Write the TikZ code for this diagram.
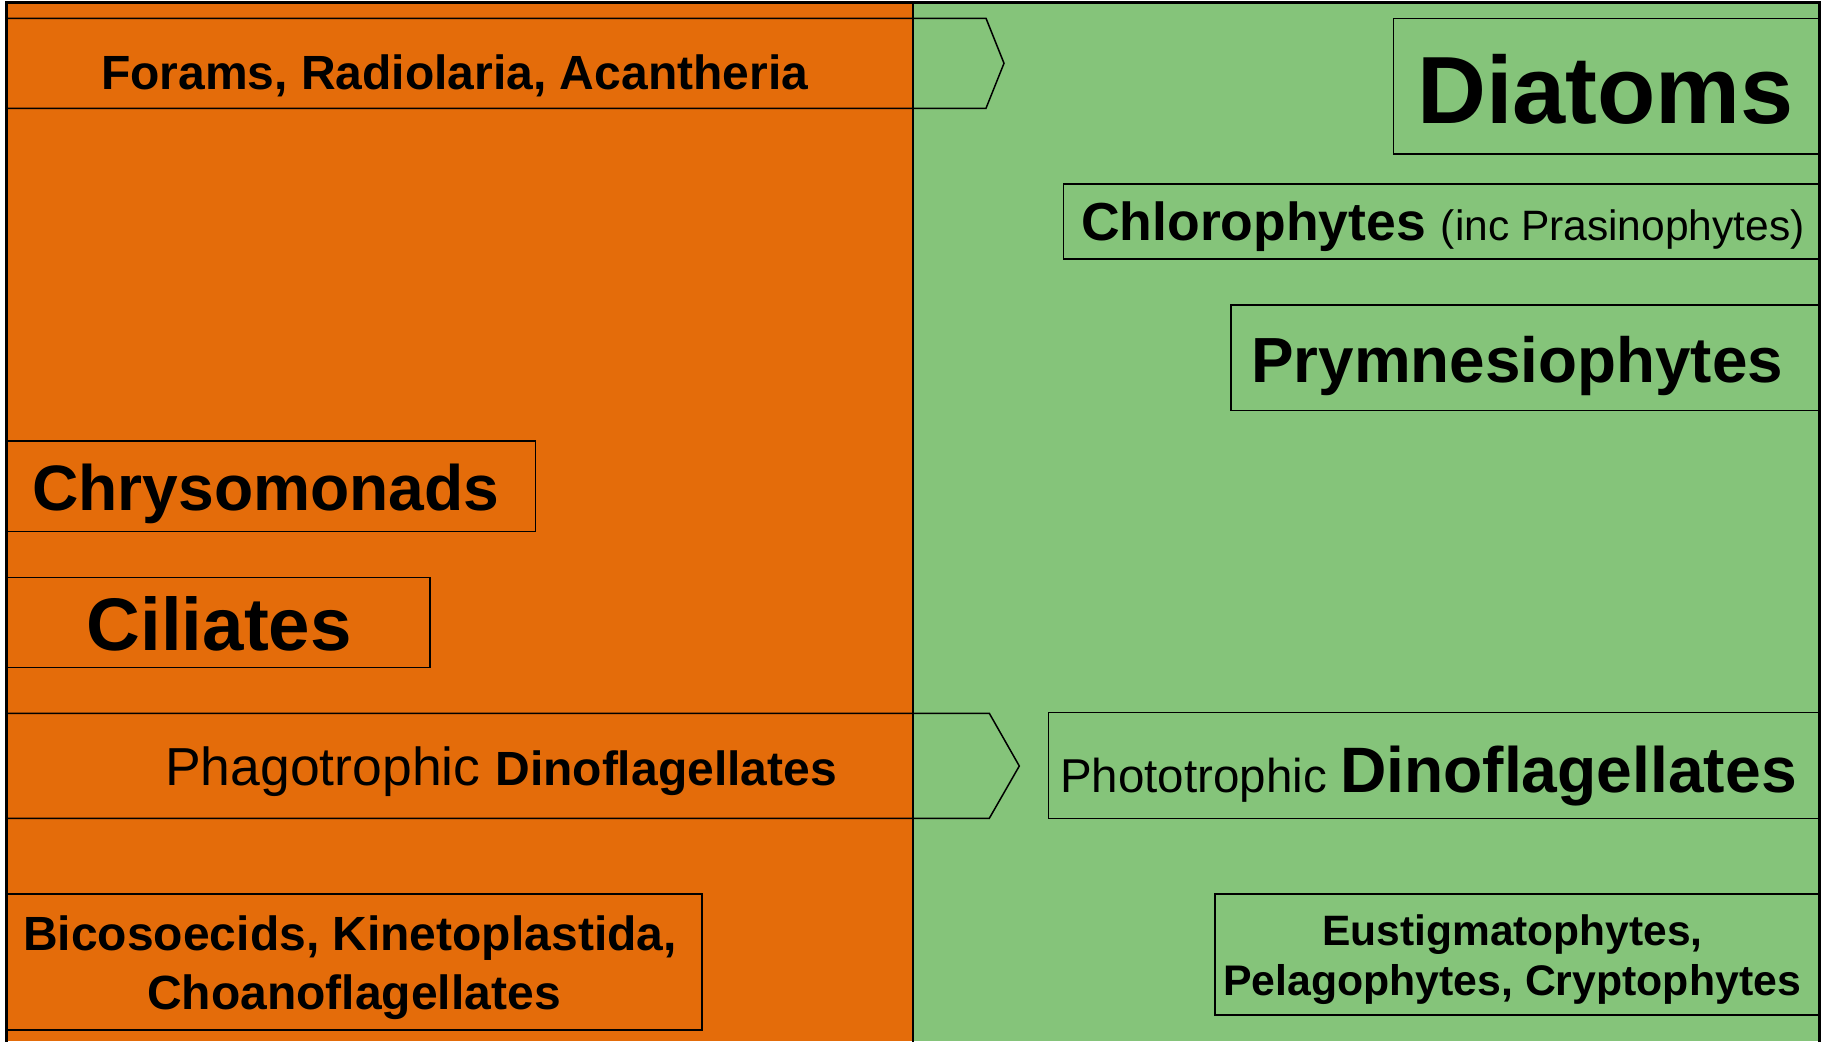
\documentclass[tikz,border=0pt]{standalone}
\usepackage{fontspec}
\setmainfont{Liberation Sans}
\definecolor{orng}{RGB}{228,108,10}
\definecolor{grn}{RGB}{133,196,122}
\begin{document}
\begin{tikzpicture}[x=1pt,y=-1pt,
  boxline/.style={draw=black,line width=1.5pt},
  lbl/.style={inner sep=0pt,anchor=base west},
  lblc/.style={inner sep=0pt,anchor=base}]
\useasboundingbox (0,0) rectangle (1825,1041);
\fill[white] (0,0) rectangle (1825,1041);
\fill[orng] (6.5,2.5) rectangle (913,1041);
\fill[grn] (913,2.5) rectangle (1819.5,1041);
\draw[line width=2.5pt] (6.5,1045) -- (6.5,2.5) -- (1819.5,2.5) -- (1819.5,1045);
\draw[line width=1.6pt] (913,2.5) -- (913,1045);
% pentagons
\draw[boxline,line join=miter] (6.5,18.3) -- (986,18.3) -- (1004,63.3) -- (986,108.3) -- (6.5,108.3);
\draw[boxline,line join=miter] (6.5,713.3) -- (989.3,713.3) -- (1019.3,766) -- (989.3,818.3) -- (6.5,818.3);
% rectangles
\draw[boxline] (1393.5,18.5) rectangle (1819.5,154);
\draw[boxline] (1063.6,184) rectangle (1819.5,259);
\draw[boxline] (1231,305) rectangle (1819.5,410.7);
\draw[boxline] (6.5,441) rectangle (535.7,531.7);
\draw[boxline] (6.5,577.3) rectangle (430,667.7);
\draw[boxline] (1048.7,712.5) rectangle (1819.5,818.5);
\draw[boxline] (6.5,894) rectangle (702,1030);
\draw[boxline] (1215,894) rectangle (1819.5,1015);
% labels
\node[lbl,font=\fontsize{48}{57}\selectfont\bfseries] (forams) at (101,89) {Forams, Radiolaria, Acantheria};
\node[lbl,font=\fontsize{95.5}{110}\selectfont\bfseries] (diatoms) at (1417,123) {Diatoms};
\node[lbl,font=\fontsize{53.5}{62}\selectfont\bfseries] (chloro) at (1081,240) {Chlorophytes {\fontsize{42.5}{50}\selectfont\mdseries (inc Prasinophytes)}};
\node[lbl,font=\fontsize{63.8}{75}\selectfont\bfseries] (prym) at (1251,382) {Prymnesiophytes};
\node[lbl,font=\fontsize{64.2}{75}\selectfont\bfseries] (chryso) at (32,510) {Chrysomonads};
\node[lbl,font=\fontsize{74.5}{88}\selectfont\bfseries] (cili) at (86.5,650) {Ciliates};
\node[lbl,font=\fontsize{53.5}{62}\selectfont] (phago) at (165,785) {Phagotrophic {\fontsize{48}{56}\selectfont\bfseries Dinoflagellates}};
\node[lbl,font=\fontsize{47.5}{56}\selectfont] (photo) at (1060,792) {Phototrophic {\fontsize{64.2}{75}\selectfont\bfseries Dinoflagellates}};
\node[lblc,font=\fontsize{48}{58}\selectfont\bfseries] (bicoa) at (350,950) {Bicosoecids, Kinetoplastida,};
\node[lblc,font=\fontsize{48}{58}\selectfont\bfseries] (bicob) at (354,1009) {Choanoflagellates};
\node[lblc,font=\fontsize{42.5}{50}\selectfont\bfseries] (eustia) at (1512.5,945) {Eustigmatophytes,};
\node[lblc,font=\fontsize{42.8}{50}\selectfont\bfseries] (eustib) at (1512,995) {Pelagophytes, Cryptophytes};
\end{tikzpicture}
\end{document}
